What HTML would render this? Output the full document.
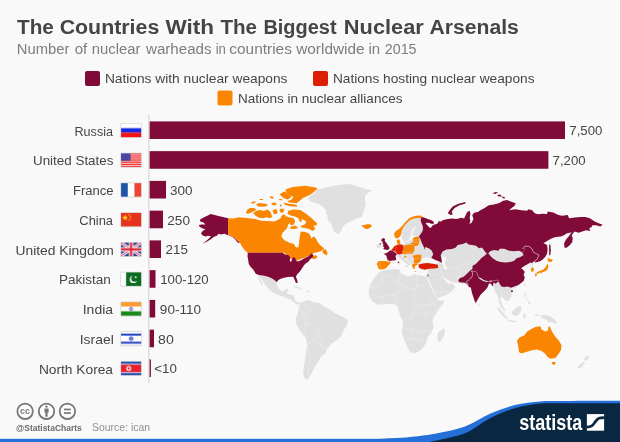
<!DOCTYPE html>
<html lang="en"><head><meta charset="utf-8"><title>The Countries With The Biggest Nuclear Arsenals</title>
<style>
html,body{margin:0;padding:0;background:#f9f9f9;}
body{width:620px;height:442px;overflow:hidden;font-family:"Liberation Sans",sans-serif;}
svg{display:block;will-change:transform}
text{font-family:"Liberation Sans",sans-serif;}
</style></head><body>
<svg width="620" height="442" viewBox="0 0 620 442">
<rect width="620" height="442" fill="#f9f9f9"/>
<g stroke-linejoin="round">
<path d="M377.3,274.3 380.2,271.4 385.3,270.0 391.1,269.3 396.9,269.0 399.8,270.0 400.6,272.9 404.2,275.1 408.5,276.5 411.5,275.8 412.9,274.3 416.5,274.8 421.6,275.8 426.7,276.5 428.1,280.9 430.3,286.0 432.5,290.3 434.7,294.7 436.9,298.3 439.0,300.9 441.2,300.5 444.5,300.0 443.4,303.4 440.5,307.0 437.6,311.4 434.7,315.7 436.0,313.6 433.1,318.0 432.3,322.3 433.8,326.7 432.3,331.0 429.4,334.7 427.3,338.3 426.5,341.9 424.4,345.6 421.5,349.2 417.8,352.1 413.5,353.3 409.8,352.1 408.1,348.5 406.2,344.1 404.0,339.0 402.3,334.0 401.9,329.6 403.3,325.2 402.6,320.9 400.4,316.5 399.0,312.2 400.6,315.0 398.7,311.4 397.7,307.0 395.5,304.4 391.9,304.1 386.8,304.1 381.7,304.8 377.3,304.4 373.7,302.6 370.8,299.7 369.1,296.1 368.6,291.8 369.4,287.4 371.5,282.3 374.4,278.0Z" fill="#e0e0e0"/>
<path d="M438.1,332.5 441.0,330.3 444.0,328.1 445.0,331.0 444.0,335.4 441.8,339.8 439.6,342.2 437.7,340.5 437.4,336.1Z" fill="#e0e0e0"/>
<path d="M300.0,304.5 303.8,301.2 308.8,300.0 313.8,302.0 318.8,303.0 323.8,306.2 328.8,308.8 333.8,312.5 341.2,316.2 348.0,320.0 347.0,325.0 343.8,330.0 341.2,336.2 336.2,340.5 331.2,343.8 327.5,348.8 325.0,353.8 321.2,356.2 318.8,361.2 315.0,366.2 312.5,371.2 310.0,376.2 308.0,379.5 305.0,378.8 303.0,373.8 303.8,367.5 305.0,360.0 306.2,352.5 307.0,345.0 306.2,338.8 302.5,333.8 298.8,328.8 296.2,323.8 295.8,318.8 297.5,313.8 298.8,308.8Z" fill="#e0e0e0"/>
<path d="M257.5,273.0 258.8,275.3 261.3,278.7 263.8,282.5 267.0,286.9 270.1,290.6 273.9,293.2 278.3,295.0 282.1,296.3 285.2,297.6 288.4,298.8 290.9,300.1 293.4,302.0 295.9,303.9 298.4,304.7 300.3,304.2 302.8,304.5 303.5,303.0 302.2,302.6 299.7,302.6 296.5,302.0 294.7,300.1 294.7,297.6 293.4,295.0 290.3,294.4 287.7,293.8 286.5,292.5 288.4,290.6 287.7,288.8 285.2,289.4 283.3,291.3 280.8,290.6 278.3,288.1 277.0,285.0 277.0,281.2 272.6,275.5Z" fill="#e0e0e0"/>
<path d="M257.5,276.2 259.1,276.8 261.3,281.2 263.2,285.0 262.3,285.4 259.8,281.2 257.8,277.8Z" fill="#e0e0e0"/>
<path d="M293.4,285.6 296.5,286.2 300.3,288.1 302.8,289.4 301.6,289.8 297.8,288.5 294.0,287.0Z" fill="#e0e0e0"/>
<path d="M306.0,290.6 309.1,291.0 308.9,292.2 306.0,291.9Z" fill="#e0e0e0"/>
<path d="M540.6,315.2 545.5,314.8 551.3,317.1 556.1,321.0 557.1,323.9 552.3,322.5 548.4,321.9 545.5,319.0 541.6,318.1Z" fill="#e0e0e0"/>
<path d="M585.2,356.8 589.0,355.8 587.7,359.7 585.4,361.4 584.2,359.3Z" fill="#e0e0e0"/>
<path d="M583.6,362.0 585.0,363.5 580.3,368.6 577.4,367.4 580.9,363.5Z" fill="#e0e0e0"/>
<path d="M491.4,279.5 493.3,277.0 497.0,275.8 507.1,277.0 517.2,279.5 519.7,284.6 515.3,287.7 512.1,289.0 510.9,288.4 512.1,292.1 511.5,296.5 509.6,299.7 507.1,301.6 504.6,300.3 503.3,297.8 501.4,296.5 500.2,298.4 500.8,301.6 502.1,304.7 504.0,307.9 505.8,310.4 504.6,311.3 502.1,308.5 500.2,305.3 498.9,301.6 498.3,297.8 497.0,294.6 495.1,291.5 493.9,287.7 493.0,284.6Z" fill="#e0e0e0"/>
<path d="M497.0,307.2 498.9,307.9 502.1,311.6 505.2,315.4 507.7,317.9 507.1,319.2 504.0,317.3 500.8,313.5 498.3,310.4Z" fill="#e0e0e0"/>
<path d="M507.7,319.8 512.1,320.4 516.5,321.7 515.9,322.6 510.9,321.7 507.7,320.8Z" fill="#e0e0e0"/>
<path d="M511.5,312.3 514.0,309.7 517.8,306.6 520.9,305.7 521.6,308.5 520.3,312.3 517.8,315.4 514.6,315.4 512.1,314.1Z" fill="#e0e0e0"/>
<path d="M523.5,314.1 525.3,313.5 526.6,315.4 525.0,316.3 525.7,318.5 524.1,318.8 523.2,316.0Z" fill="#e0e0e0"/>
<path d="M524.5,292.8 526.0,292.1 526.2,295.9 525.3,297.2 524.5,295.3Z" fill="#e0e0e0"/>
<path d="M527.9,301.6 529.7,300.9 530.4,304.1 528.5,304.7Z" fill="#e0e0e0"/>
<path d="M525.5,297.9 527.0,298.4 527.5,300.4 526.2,300.2Z" fill="#e0e0e0"/>
<path d="M524.1,284.0 525.3,283.6 525.3,286.1 524.3,286.5Z" fill="#e0e0e0"/>
<path d="M534.8,314.3 539.6,314.5 539.6,315.8 535.0,315.7Z" fill="#e0e0e0"/>
<path d="M478.3,303.9 479.7,303.9 479.7,305.3 478.3,305.3Z" fill="#e0e0e0"/>
<path d="M489.6,252.3 490.2,251.3 494.0,250.0 498.4,250.7 499.7,248.8 504.1,248.8 509.1,250.7 514.1,251.3 519.2,250.7 522.3,252.5 523.6,255.1 520.4,257.0 516.6,258.2 514.1,260.7 510.4,262.0 505.3,262.6 500.3,262.0 496.5,260.7 492.7,258.2 490.9,255.1Z" fill="#e0e0e0"/>
<path d="M428.2,268.8 427.6,273.9 427.0,277.0 428.2,278.3 430.1,282.7 432.0,287.1 433.9,291.5 435.8,295.3 437.6,298.4 441.4,297.1 445.8,295.3 450.2,292.7 453.4,289.6 455.3,286.5 453.4,284.6 450.9,283.3 449.0,283.9 446.5,282.0 444.6,279.5 442.9,277.6 445.2,278.3 448.3,280.2 451.5,282.0 455.3,282.9 458.4,283.3 460.3,283.3 470,285 485,284 500,275 505,262 503,250 490,240 470,238 455,240 447,244 443,250 441,257 437,259 432,262 430,264Z" fill="#e0e0e0"/>
<path d="M395.2,250.0 402.7,244.4 411.5,239.3 420.3,234.3 426.6,235.5 432.9,243.1 437.9,253.2 437.9,261.0 432.9,260.2 429.1,258.4 425.4,258.2 421.6,259.5 420.3,263.5 416.5,264.5 414.7,264.1 412.1,264.7 410.3,262.8 407.7,260.3 405.2,257.8 403.7,255.9 400.2,255.0 395.8,255.0Z" fill="#e0e0e0"/>
<path d="M442.0,257.1 445.1,256.5 446.4,259.6 444.5,262.7 445.8,265.9 447.6,267.8 446.4,269.7 443.9,268.4 443.2,265.3 442.0,262.7Z" fill="#f9f9f9"/>
<path d="M420.3,259.5 424.1,257.9 427.2,257.2 429.8,258.2 432.9,259.5 436.7,261.0 438.6,263.5 434.2,263.5 429.1,263.9 422.8,263.5 420.6,262.0Z" fill="#f9f9f9"/>
<path d="M307.5,198.3 312.6,193.9 317.6,189.5 325.2,187.6 332.7,186.1 341.5,184.8 350.3,184.1 355.4,185.7 361.6,187.6 367.9,189.8 372.7,190.3 368.6,192.6 365.4,195.1 364.8,200.2 366.0,205.2 364.2,209.6 362.9,213.4 362.3,216.5 359.1,217.8 355.4,219.0 351.6,220.9 347.8,222.8 344.0,225.3 341.5,229.1 341.7,230.2 338.5,234.3 334,231.5 330.3,221.4 329.6,223.4 328.3,220.3 327.0,217.8 328.3,215.9 325.8,214.0 326.4,211.5 324.5,208.3 320.8,205.2 316.4,203.3 311.3,202.0Z" fill="#e0e0e0"/>
<path d="M401.3,233.2 401.7,230.6 403.0,228.1 404.7,225.6 406.8,223.1 408.9,221.0 411.4,219.3 414.3,218.5 416.8,217.9 419.4,218.1 421.2,218.5 420.9,220.6 421.7,223.1 423.0,226.0 423.4,229.0 422.5,231.5 421.3,233.6 420.0,235.3 419.2,236.5 417.7,236.3 415.2,236.3 413.1,235.8 412.6,234.0 413.1,231.9 414.3,229.8 415.6,227.7 415.2,226.0 413.9,227.7 412.2,229.4 411.4,231.5 411.8,233.2 411.0,235.7 409.7,238.2 408.0,240.3 405.9,241.5 403.8,242.0 402.6,240.3 401.7,237.8 401.3,234.8Z" fill="#e0e0e0"/>
<path d="M376.9,244.8 379.3,244.5 380.7,245.9 379.9,247.7 377.6,248.1 376.6,246.6Z" fill="#e0e0e0"/>
<path d="M396.8,254.8 400.8,254.4 403.0,255.7 404.0,257.9 405.9,259.8 408.4,261.7 410.5,264.2 409.3,265.7 407.2,264.5 405.2,262.6 402.7,260.7 400.2,258.8 398.3,257.2Z" fill="#e0e0e0"/>
<path d="M404.6,265.7 407.7,265.5 407.7,267.1 405.0,267.1Z" fill="#e0e0e0"/>
<path d="M398.6,261.5 400.1,261.5 400.1,264.5 398.7,264.5Z" fill="#e0e0e0"/>
<path d="M210.8,214.1 218.6,216.1 228.1,218.2 228.1,234.9 232.5,236.5 236.3,239.6 240.0,242.7 238.1,243.0 235.0,239.2 231.9,236.7 228.1,235.2 224.3,233.7 221.2,234.6 218.6,233.7 216.8,235.8 213.6,237.1 210.5,239.6 206.7,241.7 202.3,243.7 206.1,240.9 209.2,238.3 211.1,236.5 208.0,235.8 205.4,236.5 202.3,235.2 201.0,233.3 202.9,230.8 205.4,229.5 202.3,228.3 199.8,227.0 198.8,225.1 201.7,224.5 205.4,224.5 203.5,222.6 200.4,221.4 199.8,219.8 203.5,217.6 207.3,215.7Z" fill="#800b38"/>
<path d="M228.1,218.2 233.7,218.6 238.8,217.3 243.8,217.8 248.8,218.3 255.1,219.1 261.4,220.7 266.5,221.1 267.7,221.0 274.0,221.4 277.7,220.1 280.3,218.3 284.0,216.7 287.6,216.4 289.5,217.6 293.9,218.3 295.1,221.4 293.9,224.6 290.7,225.2 289.8,222.9 288.2,224.6 287.0,228.3 282.5,232.7 281.3,236.5 284.4,240.3 289.5,242.8 293.9,244.1 295.8,247.2 298.3,247.6 298.9,244.1 299.5,239.0 300.2,234.0 300.8,231.5 305.2,232.1 309.0,233.4 310.9,236.5 310.6,238.4 314.0,236.5 315.9,238.4 317.8,242.2 320.3,245.3 323.4,247.8 324.4,248.5 321.4,251.0 317.4,252.2 313.8,253.0 311.3,255.3 310.6,256.8 313.0,256.3 315.8,255.0 317.6,257.0 315.3,259.0 312.6,258.8 310.4,257.5 309.2,256.0 305.4,257.3 302.3,258.5 298.7,259.8 296.0,261.0 293.5,259.3 290.4,258.5 289.2,255.5 285.4,254.3 284.6,252.7 262.0,252.7 247.8,252.8 247.0,252.2 244.4,249.7 241.9,246.5 240.0,242.7 236.3,239.6 232.5,236.5 228.1,234.9Z" fill="#f98500"/>
<path d="M323.0,250.2 325.5,249.0 327.5,252.7 326.9,255.4 324.3,254.1 322.4,252.7Z" fill="#f98500"/>
<path d="M285.3,189.6 292.8,187.1 305.4,185.8 315.5,187.4 317.7,188.7 310.5,194.4 302.9,198.1 299.1,201.3 296.6,203.2 289.1,202.5 287.2,201.3 291.6,199.4 293.5,196.9 290.3,195.6 286.5,193.1Z" fill="#f98500"/>
<path d="M279.6,194.4 284.0,191.2 289.7,195.0 291.6,196.9 287.8,199.4 283.4,198.1Z" fill="#f98500"/>
<path d="M283.4,202.5 289.1,203.8 296.6,204.7 297.2,206.7 290.3,206.3 285.3,205.0Z" fill="#f98500"/>
<path d="M250.8,202.6 254.2,201.2 256.1,201.7 253.7,203.4 251.8,203.6Z" fill="#f98500"/>
<path d="M256.1,204.6 259.0,203.1 263.4,203.6 266.8,204.1 267.8,205.6 264.9,206.5 261.0,206.7 257.6,206.3Z" fill="#f98500"/>
<path d="M259.5,199.0 262.9,199.0 263.1,199.9 259.7,200.0Z" fill="#f98500"/>
<path d="M269.3,196.8 272.2,196.3 274.1,198.3 271.7,198.8Z" fill="#f98500"/>
<path d="M271.2,203.1 275.1,202.6 277.0,204.6 274.1,205.6 271.7,204.6Z" fill="#f98500"/>
<path d="M245.9,212.9 247.4,209.4 250.3,208.0 253.7,208.0 256.6,209.4 254.7,210.9 252.2,211.9 249.8,213.3 247.4,213.8Z" fill="#f98500"/>
<path d="M253.2,213.3 256.1,210.9 259.5,209.9 263.9,210.9 267.3,209.4 269.7,210.9 271.2,213.8 272.2,216.7 270.2,218.2 266.3,217.2 262.9,218.2 259.0,217.7 255.6,215.8Z" fill="#f98500"/>
<path d="M272.7,209.9 276.1,209.0 277.5,210.9 277.0,213.8 274.6,214.3 273.0,212.4Z" fill="#f98500"/>
<path d="M279.5,209.0 283.4,208.5 284.3,210.4 282.4,212.9 280.0,211.9Z" fill="#f98500"/>
<path d="M279.0,199.0 281.9,199.0 282.1,200.3 279.2,200.3Z" fill="#f98500"/>
<path d="M279.8,204.6 281.5,204.6 281.5,206.5 280.0,206.5Z" fill="#f98500"/>
<path d="M280.9,216.3 283.8,214.3 285.8,215.8 284.3,218.4 281.9,218.4Z" fill="#f98500"/>
<path d="M288.2,210.7 293.9,209.5 300.2,210.1 306.5,213.9 311.5,218.3 317.1,223.3 316.5,225.8 313.4,225.2 315.3,229.0 312.7,230.9 309.0,229.0 305.2,228.0 301.4,227.5 300.8,225.8 304.6,224.6 306.5,222.0 304.6,220.2 301.4,218.9 302.0,221.4 300.2,222.0 298.3,218.3 295.1,216.4 291.4,215.8 287.6,213.9Z" fill="#f98500"/>
<path d="M290.7,226.5 295.8,225.8 298.3,228.0 293.9,229.0 290.3,228.7Z" fill="#f98500"/>
<path d="M247.8,252.8 282.8,252.8 284.7,254.4 288.4,255.1 290.3,257.0 289.7,260.7 291.0,262.0 292.2,258.8 293.5,257.0 295.4,258.2 296.0,260.7 297.9,261.4 301.6,260.1 304.2,258.2 306.0,257.6 308.6,256.3 310.5,254.4 311.7,253.2 313.6,255.7 312.3,257.6 309.8,259.5 308.6,261.4 306.0,263.2 304.2,265.1 302.9,267.0 301.6,268.9 299.7,271.8 297.2,274.3 295.9,276.8 297.2,280.0 297.7,283.1 295.9,283.1 294.7,280.0 293.4,277.1 291.5,276.8 287.7,277.1 284.0,277.8 280.8,278.7 278.3,280.0 277.0,282.1 275.8,281.2 273.3,279.3 270.1,277.4 266.4,276.2 262.6,275.5 258.8,274.9 255.7,273.7 253.2,269.5 250.7,267.0 248.8,263.9 248.2,260.1 247.5,256.3Z" fill="#800b38"/>
<path d="M361.3,224.9 363.8,225.2 366.3,224.2 370.1,224.2 372.0,225.8 370.1,227.7 367.0,229.2 364.4,228.3 362.5,226.5Z" fill="#f98500"/>
<path d="M394.2,233.2 395.9,231.1 398.4,229.4 400.9,227.3 403.4,224.4 405.9,221.4 408.9,218.5 411.8,217.1 415.2,216.0 418.5,215.4 421.5,215.7 422.3,217.1 421.0,218.5 419.4,218.1 416.8,217.9 414.3,218.5 411.4,219.3 408.9,221.0 406.8,223.1 404.7,225.6 403.0,228.1 401.7,230.6 401.3,233.2 400.5,235.7 398.8,237.4 396.7,238.6 395.0,237.4 394.2,234.8Z" fill="#f98500"/>
<path d="M381.3,239.5 383.2,238.0 385.1,239.1 384.7,241.0 386.2,242.5 387.3,244.3 388.8,246.6 389.6,248.1 388.8,249.5 386.9,249.9 384.7,249.5 383.2,248.8 384.3,247.3 382.8,246.2 383.6,244.7 382.5,243.2 382.8,241.7 381.3,241.0Z" fill="#800b38"/>
<path d="M379.3,243.4 381.0,243.2 381.1,244.4 379.6,244.5Z" fill="#800b38"/>
<path d="M383.6,253.7 386.2,253.3 388.1,252.0 390.3,250.3 392.5,250.7 394.6,252.2 396.3,253.3 396.7,254.8 395.5,255.9 395.9,257.8 396.3,259.8 394.4,260.5 392.2,260.4 389.9,260.9 387.7,260.2 386.9,257.8 386.2,255.5 384.7,254.4Z" fill="#800b38"/>
<path d="M397.7,261.7 399.0,261.7 399.0,262.9 397.7,262.9Z" fill="#800b38"/>
<path d="M391.1,249.9 392.5,248.8 394.0,246.6 395.2,245.8 396.3,246.6 396.3,248.4 395.5,249.9 395.2,251.8 393.3,251.0Z" fill="#dc1e05"/>
<path d="M395.2,245.8 397.4,244.7 400.0,244.3 403.0,245.1 403.8,247.7 403.4,249.9 402.3,251.4 403.0,253.3 401.1,254.0 398.9,254.4 396.7,253.7 396.3,252.2 395.0,251.6 395.5,249.5 396.3,247.3Z" fill="#dc1e05"/>
<path d="M396.7,240.3 398.8,239.2 399.9,241.1 400.5,243.2 399.4,245.0 397.5,244.1 396.9,242.0Z" fill="#f98500"/>
<path d="M403.8,245.6 407.1,244.7 410.8,244.3 413.8,245.1 414.6,247.7 414.2,250.7 413.1,252.3 412.7,253.8 410.1,253.8 407.1,253.7 406.4,254.2 403.8,254.3 402.5,253.2 402.8,251.6 403.5,249.9 404.0,247.7Z" fill="#f98500"/>
<path d="M403.8,256.6 406.0,256.0 406.4,257.2 404.5,258.0Z" fill="#f98500"/>
<path d="M412.6,238.2 415.2,236.9 419.1,236.5 419.5,239.9 419.1,243.2 417.7,245.7 413.9,245.9 412.2,242.4 413.5,240.3Z" fill="#f98500"/>
<path d="M412.3,256.0 415.3,254.9 419.1,254.4 421.3,255.1 421.3,255.0 421.1,260.6 419.1,262.5 416.8,263.2 414.2,263.2 413.8,261.0 414.2,258.7 413.1,256.9 412.3,255.0Z" fill="#f98500"/>
<path d="M412.0,264.7 413.8,263.6 416.8,263.2 417.9,264.3 416.1,265.5 414.6,266.2 415.0,268.1 413.8,269.2 412.7,267.7 412.0,266.2Z" fill="#f98500"/>
<path d="M414.8,271.0 416.2,271.0 416.2,271.7 414.8,271.7Z" fill="#f98500"/>
<path d="M377.6,261.7 380.2,261.0 384.7,261.1 388.4,261.6 391.1,262.1 389.6,264.3 387.7,266.2 386.2,268.1 384.0,269.2 381.0,269.6 378.4,268.8 377.6,266.2 376.9,264.0Z" fill="#f98500"/>
<path d="M528.8,265.7 532.0,263.0 535.3,262.2 534.1,265.1 532.6,267.0 531.1,268.0 529.6,267.3Z" fill="#ececec"/>
<path d="M421.0,218.5 422.3,217.1 425.2,218.1 428.6,219.3 431.9,220.6 433.6,221.8 434.0,223.5 431.9,223.9 429.4,223.1 426.9,222.7 425.6,223.1 426.9,224.8 429.0,226.9 430.3,228.1 431.5,226.9 432.8,225.2 434.5,224.4 436.5,223.9 438.2,222.7 438.6,221.0 440.3,221.4 440.2,222.1 442.7,220.3 446.5,219.3 451.5,218.4 456.5,219.0 461.5,217.7 464.1,218.4 465.3,215.9 467.2,212.1 469.7,210.8 470.4,214.0 469.7,217.7 470.4,221.5 469.1,224.0 471.6,222.8 473.5,219.0 472.2,215.2 474.1,212.7 477.9,212.1 480.4,210.2 484.2,208.3 488.0,205.8 488.8,205.2 493.8,204.5 498.8,203.3 503.2,200.8 507.0,200.1 512.0,202.0 515.8,203.3 514.6,205.8 511.4,208.3 508.9,210.2 515.2,209.2 521.5,210.2 527.1,210.8 528.4,209.2 532.2,210.2 534.7,213.3 537.8,214.2 542.9,213.7 547.0,213.9 547.7,211.4 553.3,212.6 558.4,215.1 562.1,215.8 567.8,215.1 569.0,218.3 574.7,217.6 580.4,217.0 585.4,217.0 589.8,218.3 594.8,221.4 599.9,223.7 602.6,224.6 600.5,226.5 596.1,225.2 592.3,225.2 591.7,227.1 589.2,228.3 590.4,230.9 586.0,230.2 582.3,231.5 578.5,232.7 574.7,231.5 573.5,232.7 571.6,235.3 572.8,238.4 572.2,242.2 569.7,245.3 566.5,247.8 564.6,247.8 564.0,243.4 565.9,239.7 569.0,235.9 571.6,232.1 569.7,232.7 566.5,233.4 564.0,235.3 560.9,236.5 555.8,237.1 551.4,238.4 548.3,240.3 545.1,242.2 543.3,243.1 547.0,245.0 547.7,249.4 547.0,253.8 545.2,256.9 542.6,259.5 540.1,261.3 537.6,262.0 535.1,262.6 534.5,261.3 536.4,260.1 537.6,258.2 538.9,255.0 536.4,253.8 533.2,251.9 532.0,248.8 528.8,246.2 525.0,246.2 522.5,248.8 525.5,248.8 522.3,252.5 519.2,250.7 514.1,251.3 509.1,250.7 504.1,248.8 499.7,248.8 498.4,250.7 494.0,250.0 490.2,251.3 489.2,252.3 487.7,254.1 485.8,252.8 482.0,247.5 479.1,248.3 476.0,245.8 472.2,245.1 468.4,244.5 466.5,242.6 462.7,243.9 457.7,245.1 455.8,247.6 452.0,248.9 446.4,249.5 442.6,251.4 440.7,255.2 441.4,259.0 442.0,262.7 439.5,261.5 434.4,259.6 431.3,257.7 433.2,254.6 431.9,250.8 428.8,248.3 425.0,247.0 424.8,250.0 423.6,246.6 421.7,242.8 420.4,239.0 418.9,236.5 419.8,235.3 421.0,233.6 422.3,231.5 423.1,229.0 422.7,226.0 421.5,223.1 420.6,220.6Z" fill="#800b38"/>
<path d="M447.7,213.3 449.6,210.2 452.7,206.4 457.8,203.9 465.3,202.1 465.6,203.4 459.0,205.4 454.6,207.9 451.7,211.5 452.7,214.6 450.9,215.0Z" fill="#800b38"/>
<path d="M492.5,193.2 495.7,192.0 498.2,192.6 495.1,194.1Z" fill="#800b38"/>
<path d="M497.0,195.1 500.1,194.5 502.0,196.4 498.8,196.6Z" fill="#800b38"/>
<path d="M502.0,196.4 504.5,197.0 505.1,198.6 502.6,198.2Z" fill="#800b38"/>
<path d="M549.1,244.4 550.3,244.4 550.9,250.6 550.3,255.2 549.2,255.2 549.1,250.0Z" fill="#800b38"/>
<path d="M411.2,243.2 412.3,243.1 412.5,243.9 411.3,244.1Z" fill="#800b38"/>
<path d="M487.1,253.2 484.6,255.7 482.0,257.6 478.9,260.7 475.8,263.9 472.6,265.8 472.4,267.6 473.9,270.2 476.6,273.9 478.9,276.5 482.0,279.0 485.8,280.9 489.0,281.7 492.7,281.5 495.9,280.9 498.4,281.5 499.7,284.0 501.5,286.5 504.1,287.1 507.8,286.5 511.0,287.8 514.1,286.5 517.9,285.3 520.4,283.4 523.6,280.9 524.8,277.7 523.6,274.6 524.8,272.0 522.9,269.5 521.0,268.3 523.6,266.4 526.1,265.1 528.0,263.9 530.5,262.6 532.0,263.2 534.5,261.3 536.4,260.1 537.6,258.2 538.9,255.0 536.4,253.8 533.2,251.9 532.0,248.8 528.8,246.2 525.0,246.2 522.5,248.8 525.5,248.8 522.3,252.5 523.6,255.1 520.4,257.0 516.6,258.2 514.1,260.7 510.4,262.0 505.3,262.6 500.3,262.0 496.5,260.7 492.7,258.2 490.2,255.7 488.3,253.2Z" fill="#800b38"/>
<path d="M511.1,290.2 512.8,290.2 512.8,291.9 511.1,291.9Z" fill="#800b38"/>
<path d="M473.3,267.4 475.2,270.0 477.0,273.1 478.9,275.6 482.1,278.1 485.9,280.0 489.0,280.6 491.5,280.4 494.0,279.6 497.2,279.4 498.4,280.6 497.2,282.5 495.3,283.8 494.0,282.5 492.8,284.4 493.4,286.3 492.1,285.7 490.9,283.8 489.0,283.2 488.4,285.0 487.7,286.9 485.9,289.5 483.3,292.0 480.8,294.5 478.9,297.6 477.0,300.8 475.8,303.3 474.5,300.8 473.3,297.0 472.0,293.2 471.4,290.1 470.8,287.6 468.9,286.9 467.6,285.0 467.0,283.8 466.4,282.5 467.0,280.6 468.9,279.4 470.8,276.9 472.6,274.4 472.0,271.8 473.3,269.3Z" fill="#800b38"/>
<path d="M458.2,280.0 460.1,278.1 463.2,276.9 465.7,275.0 468.2,272.5 470.1,270.6 472.0,269.3 473.3,267.4 473.3,269.3 472.0,271.8 472.6,274.4 470.8,276.9 468.9,279.4 467.0,280.6 466.4,282.5 467.0,283.8 464.5,282.5 461.3,282.5 458.8,281.9Z" fill="#800b38"/>
<path d="M427.5,274.2 428.3,274.2 428.3,276.5 427.6,276.5Z" fill="#800b38"/>
<path d="M418.5,264.4 422.5,263.6 427.6,263.1 432.6,263.8 437.9,264.8 438.1,268.1 433.9,268.6 428.8,268.8 425.1,269.8 421.3,269.0 418.8,267.6Z" fill="#dc1e05"/>
<path d="M531.3,267.9 532.6,267.3 533.5,268.2 533.9,270.2 532.9,271.5 531.6,271.9 531.0,270.5Z" fill="#f98500"/>
<path d="M548.1,257.9 550.0,258.9 552.9,259.8 551.9,261.5 550.0,262.1 548.1,261.5 547.6,259.8Z" fill="#f98500"/>
<path d="M536.5,272.7 538.1,271.5 540.0,270.8 541.9,270.2 543.9,268.9 545.5,267.6 546.5,265.6 547.1,264.0 548.1,264.4 548.3,266.6 547.7,268.9 546.5,270.5 544.5,271.5 542.6,272.1 541.3,273.4 540.3,272.4 539.0,273.1 537.7,274.0 536.6,273.7Z" fill="#f98500"/>
<path d="M535.0,273.6 536.5,273.7 536.9,275.0 536.1,276.6 535.2,276.3Z" fill="#f98500"/>
<path d="M517.0,340.7 519.4,337.4 524.2,335.5 527.1,331.6 531.9,328.7 535.8,326.8 540.6,326.4 541.6,329.7 545.5,331.6 548.0,330.6 548.4,326.4 549.9,326.8 551.9,331.6 555.2,336.5 559.0,340.7 561.5,345.2 561.0,350.0 558.1,354.8 555.2,358.1 550.3,358.7 547.4,356.8 544.9,353.5 541.6,351.0 536.8,349.6 531.0,350.4 526.1,351.9 521.3,353.5 519.0,351.9 518.4,347.1Z" fill="#f98500"/>
<path d="M551.9,362.0 555.7,362.0 554.6,365.1 552.6,364.5Z" fill="#f98500"/>
<path d="M478.5,277.2 480.8,278.1 483.4,279.7 486.0,280.7 487.9,281.0 487.6,282.0 485.3,281.7 482.7,280.7 480.5,279.4 478.5,278.1Z" fill="#e0e0e0"/>
<path d="M489.2,280.7 491.8,280.6 491.9,281.7 489.5,281.9Z" fill="#e0e0e0"/>
<path d="M471.1,271.0 472.4,272.6 472.7,274.6 472.1,276.8 470.5,278.8 468.9,280.4 466.6,281.4 467.6,283.3 468.2,285.2 467.9,286.8" fill="none" stroke="#fff" stroke-opacity="0.7" stroke-width="0.6"/>
<path d="M471.1,271.0 473.7,271.7 475.6,271.4 476.9,272.6 477.6,274.6 478.5,277.2" fill="none" stroke="#fff" stroke-opacity="0.7" stroke-width="0.6"/>
<path d="M487.9,281.4 489.2,281.4" fill="none" stroke="#fff" stroke-opacity="0.5" stroke-width="0.6"/>
<path d="M491.9,281.1 493.7,280.7 496.3,280.1 498.9,280.4" fill="none" stroke="#fff" stroke-opacity="0.6" stroke-width="0.6"/>
<path d="M522.5,248.8 525.0,246.2 528.8,246.2 532.0,248.8 533.2,251.9 536.4,253.8 538.9,255.0 537.6,258.2 536.4,260.1 534.5,261.3 532.0,263.2" fill="none" stroke="#fff" stroke-opacity="0.7" stroke-width="0.6"/>
<path d="M400.6,272.9 399.1,278.0 399.8,283.8 405.6,287.4" fill="none" stroke="#fff" stroke-opacity="0.5" stroke-width="0.5"/>
<path d="M416.5,274.8 416.8,286.0 429.6,286.0" fill="none" stroke="#fff" stroke-opacity="0.5" stroke-width="0.5"/>
<path d="M369.4,287.4 381.7,286.0 381.7,278.0 386.8,275.8 399.8,283.8" fill="none" stroke="#fff" stroke-opacity="0.5" stroke-width="0.5"/>
<path d="M381.7,296.8 394.0,294.7 405.6,287.4 415.1,288.9 416.8,286.0" fill="none" stroke="#fff" stroke-opacity="0.5" stroke-width="0.5"/>
<path d="M415.1,288.9 413.6,299.7 420.2,305.5" fill="none" stroke="#fff" stroke-opacity="0.5" stroke-width="0.5"/>
<path d="M394.0,294.7 396.2,304.1" fill="none" stroke="#fff" stroke-opacity="0.5" stroke-width="0.5"/>
<path d="M381.7,296.8 382.4,304.4" fill="none" stroke="#fff" stroke-opacity="0.5" stroke-width="0.5"/>
<path d="M373.7,295.4 381.7,296.8" fill="none" stroke="#fff" stroke-opacity="0.5" stroke-width="0.5"/>
<path d="M428.9,291.0 428.9,295.4 433.2,304.1 440.5,307.0" fill="none" stroke="#fff" stroke-opacity="0.5" stroke-width="0.5"/>
<path d="M402.0,319.3 412.9,317.9 413.6,309.9 420.2,305.5 426.0,312.1 425.2,320.1" fill="none" stroke="#fff" stroke-opacity="0.5" stroke-width="0.5"/>
<path d="M426.0,312.1 434.0,316.4" fill="none" stroke="#fff" stroke-opacity="0.5" stroke-width="0.5"/>
<path d="M420.2,305.5 428.9,304.8 433.2,304.1" fill="none" stroke="#fff" stroke-opacity="0.5" stroke-width="0.5"/>
<path d="M402.6,329.6 412.7,328.9 418.5,331.8 432.3,331.0" fill="none" stroke="#fff" stroke-opacity="0.5" stroke-width="0.5"/>
<path d="M412.7,328.9 413.0,339.0 418.5,341.2 424.4,339.0" fill="none" stroke="#fff" stroke-opacity="0.5" stroke-width="0.5"/>
<path d="M406.2,339.0 413.0,339.0" fill="none" stroke="#fff" stroke-opacity="0.5" stroke-width="0.5"/>
<path d="M418.5,331.8 418.5,341.2" fill="none" stroke="#fff" stroke-opacity="0.5" stroke-width="0.5"/>
<path d="M438.9,310.0 433.1,312.2 424.4,314.4 418.5,312.9" fill="none" stroke="#fff" stroke-opacity="0.5" stroke-width="0.5"/>
<path d="M313.8,302.0 311.2,310.0 303.8,315.0 306.2,322.5 313.8,326.2 318.8,332.5 322.5,338.8 321.2,345.0 325.0,350.0 327.5,348.8" fill="none" stroke="#fff" stroke-opacity="0.5" stroke-width="0.5"/>
<path d="M307.0,345.0 310.0,357.5 308.8,370.0 308.0,377.5" fill="none" stroke="#fff" stroke-opacity="0.5" stroke-width="0.5"/>
<path d="M306.2,322.5 303.8,333.8" fill="none" stroke="#fff" stroke-opacity="0.5" stroke-width="0.5"/>
<path d="M307.0,345.0 313.8,340.0 318.8,332.5" fill="none" stroke="#fff" stroke-opacity="0.5" stroke-width="0.5"/>
<path d="M303.8,301.2 306.2,308.8 311.2,310.0" fill="none" stroke="#fff" stroke-opacity="0.5" stroke-width="0.5"/>
<path d="M298.8,308.8 303.8,315.0" fill="none" stroke="#fff" stroke-opacity="0.5" stroke-width="0.5"/>
<path d="M313.8,340.0 321.2,345.0" fill="none" stroke="#fff" stroke-opacity="0.5" stroke-width="0.5"/>
<path d="M379.6,262.1 380.1,266.2 379.5,268.8" fill="none" stroke="#fff" stroke-opacity="0.5" stroke-width="0.4"/>
<path d="M395.2,245.8 396.3,247.3 395.5,249.5 395.0,251.6" fill="none" stroke="#fff" stroke-opacity="0.35" stroke-width="0.4"/>
<path d="M402.8,251.6 404.5,252.5 407.1,253.3 410.1,252.2 413.1,252.3" fill="none" stroke="#fff" stroke-opacity="0.6" stroke-width="0.4"/>
<path d="M413.1,240.3 419.4,239.5" fill="none" stroke="#fff" stroke-opacity="0.6" stroke-width="0.4"/>
<path d="M412.5,242.6 419.1,242.2" fill="none" stroke="#fff" stroke-opacity="0.6" stroke-width="0.4"/>
<path d="M413.8,259.1 420.6,258.7" fill="none" stroke="#fff" stroke-opacity="0.6" stroke-width="0.4"/>
<path d="M442.9,277.6 437.6,275.1 432.6,273.9 428.2,273.9" fill="none" stroke="#fff" stroke-opacity="0.5" stroke-width="0.5"/>
<path d="M442.9,277.6 442.0,272.6 440.2,268.8" fill="none" stroke="#fff" stroke-opacity="0.5" stroke-width="0.5"/>
<path d="M444.6,279.5 450.9,283.3" fill="none" stroke="#fff" stroke-opacity="0.5" stroke-width="0.5"/>
<path d="M433.9,291.5 441.4,291.5 450.2,292.7" fill="none" stroke="#fff" stroke-opacity="0.5" stroke-width="0.5"/>
<path d="M441.4,297.1 441.4,291.5" fill="none" stroke="#fff" stroke-opacity="0.5" stroke-width="0.5"/>
<path d="M458.4,283.3 457.8,277.6 460.3,272.6 456.5,268.8 451.5,267.6 448.3,268.2" fill="none" stroke="#fff" stroke-opacity="0.5" stroke-width="0.5"/>
<path d="M460.3,272.6 465.3,271.4 470.4,270.1" fill="none" stroke="#fff" stroke-opacity="0.5" stroke-width="0.5"/>
<path d="M456.5,268.8 459.0,265.1 465.3,263.8 470.4,262.5" fill="none" stroke="#fff" stroke-opacity="0.5" stroke-width="0.5"/>
</g>
<text x="17.09" y="33.5" font-size="19.5" font-weight="bold" fill="#454545" textLength="36.79" lengthAdjust="spacingAndGlyphs">The</text><text x="59.65" y="33.5" font-size="19.5" font-weight="bold" fill="#454545" textLength="99.65" lengthAdjust="spacingAndGlyphs">Countries</text><text x="165.4" y="33.5" font-size="19.5" font-weight="bold" fill="#454545" textLength="48.59" lengthAdjust="spacingAndGlyphs">With</text><text x="220.49" y="33.5" font-size="19.5" font-weight="bold" fill="#454545" textLength="36.59" lengthAdjust="spacingAndGlyphs">The</text><text x="263.4" y="33.5" font-size="19.5" font-weight="bold" fill="#454545" textLength="73.14" lengthAdjust="spacingAndGlyphs">Biggest</text><text x="343.88" y="33.5" font-size="19.5" font-weight="bold" fill="#454545" textLength="79.91" lengthAdjust="spacingAndGlyphs">Nuclear</text><text x="429.57" y="33.5" font-size="19.5" font-weight="bold" fill="#454545" textLength="89.27" lengthAdjust="spacingAndGlyphs">Arsenals</text>
<text x="16.82" y="54" font-size="14" fill="#7d7d7d" textLength="52.63" lengthAdjust="spacingAndGlyphs">Number</text><text x="74.7" y="54" font-size="14" fill="#7d7d7d" textLength="12.59" lengthAdjust="spacingAndGlyphs">of</text><text x="91.84" y="54" font-size="14" fill="#7d7d7d" textLength="48.66" lengthAdjust="spacingAndGlyphs">nuclear</text><text x="146.0" y="54" font-size="14" fill="#7d7d7d" textLength="65.55" lengthAdjust="spacingAndGlyphs">warheads</text><text x="215.64" y="54" font-size="14" fill="#7d7d7d" textLength="10.26" lengthAdjust="spacingAndGlyphs">in</text><text x="229.28" y="54" font-size="14" fill="#7d7d7d" textLength="62.62" lengthAdjust="spacingAndGlyphs">countries</text><text x="296.2" y="54" font-size="14" fill="#7d7d7d" textLength="68.42" lengthAdjust="spacingAndGlyphs">worldwide</text><text x="368.42" y="54" font-size="14" fill="#7d7d7d" textLength="11.71" lengthAdjust="spacingAndGlyphs">in</text><text x="384.79" y="54" font-size="14" fill="#7d7d7d" textLength="31.78" lengthAdjust="spacingAndGlyphs">2015</text>
<rect x="85" y="71" width="15" height="15" rx="2" fill="#800b38"/><text x="104.9" y="83" font-size="13" fill="#454545" textLength="182.59" lengthAdjust="spacingAndGlyphs">Nations with nuclear weapons</text>
<rect x="313" y="71" width="15" height="15" rx="2" fill="#dc1e05"/><text x="332.91" y="83" font-size="13" fill="#454545" textLength="201.6" lengthAdjust="spacingAndGlyphs">Nations hosting nuclear weapons</text>
<rect x="217.5" y="90.5" width="15" height="15" rx="2" fill="#f98500"/><text x="237.92" y="102.5" font-size="13" fill="#454545" textLength="164.54" lengthAdjust="spacingAndGlyphs">Nations in nuclear alliances</text>
<rect x="148" y="115" width="1.5" height="268" fill="#dedede"/>
<rect x="149.6" y="121.40" width="415.4" height="17.6" fill="#800b38"/><text x="74.49" y="135.6" font-size="13.3" fill="#454545" textLength="38.53" lengthAdjust="spacingAndGlyphs">Russia</text><text x="569.34" y="135.4" font-size="13" fill="#454545" textLength="33.16" lengthAdjust="spacingAndGlyphs">7,500</text><g transform="translate(121.1,123.7)"><rect x="-0.7" y="-0.7" width="21.4" height="15.0" rx="1.2" fill="#d4d4d4"/><svg x="0" y="0" width="20" height="13.4" viewBox="0 0 21 14" preserveAspectRatio="none"><rect width="21" height="14" fill="#fff"/><rect y="4.67" width="21" height="4.67" fill="#1428e6"/><rect y="9.33" width="21" height="4.67" fill="#f51414"/></svg></g>
<rect x="149.6" y="151.15" width="398.79999999999995" height="17.6" fill="#800b38"/><text x="32.99" y="165.35" font-size="13.3" fill="#454545" textLength="80.45" lengthAdjust="spacingAndGlyphs">United States</text><text x="552.54" y="165.15" font-size="13" fill="#454545" textLength="33.16" lengthAdjust="spacingAndGlyphs">7,200</text><g transform="translate(121.1,153.45000000000002)"><rect x="-0.7" y="-0.7" width="21.4" height="15.0" rx="1.2" fill="#d4d4d4"/><svg x="0" y="0" width="20" height="13.4" viewBox="0 0 21 14" preserveAspectRatio="none"><rect width="21" height="14" fill="#f23434"/><rect y="1.23" width="21" height="0.78" fill="#fff" fill-opacity=".92"/><rect y="3.38" width="21" height="0.78" fill="#fff" fill-opacity=".92"/><rect y="5.53" width="21" height="0.78" fill="#fff" fill-opacity=".92"/><rect y="7.69" width="21" height="0.78" fill="#fff" fill-opacity=".92"/><rect y="9.84" width="21" height="0.78" fill="#fff" fill-opacity=".92"/><rect y="12.00" width="21" height="0.78" fill="#fff" fill-opacity=".92"/><rect width="9.8" height="7.6" fill="#3c3c9c"/><g fill="#8a8cc8"><circle cx="2" cy="2" r=".55"/><circle cx="4.9" cy="2" r=".55"/><circle cx="7.8" cy="2" r=".55"/><circle cx="3.4" cy="3.8" r=".55"/><circle cx="6.3" cy="3.8" r=".55"/><circle cx="2" cy="5.6" r=".55"/><circle cx="4.9" cy="5.6" r=".55"/><circle cx="7.8" cy="5.6" r=".55"/></g></svg></g>
<rect x="149.6" y="180.90" width="16.4" height="17.6" fill="#800b38"/><text x="72.95" y="195.1" font-size="13.3" fill="#454545" textLength="40.66" lengthAdjust="spacingAndGlyphs">France</text><text x="169.96" y="194.9" font-size="13" fill="#454545" textLength="22.56" lengthAdjust="spacingAndGlyphs">300</text><g transform="translate(121.1,183.20000000000002)"><rect x="-0.7" y="-0.7" width="21.4" height="15.0" rx="1.2" fill="#d4d4d4"/><svg x="0" y="0" width="20" height="13.4" viewBox="0 0 21 14" preserveAspectRatio="none"><rect width="21" height="14" fill="#fff"/><rect width="7" height="14" fill="#1e55a8"/><rect x="14" width="7" height="14" fill="#ee4436"/></svg></g>
<rect x="149.6" y="210.65" width="13.4" height="17.6" fill="#800b38"/><text x="79.36" y="224.85" font-size="13.3" fill="#454545" textLength="33.68" lengthAdjust="spacingAndGlyphs">China</text><text x="167.32" y="224.65" font-size="13" fill="#454545" textLength="22.7" lengthAdjust="spacingAndGlyphs">250</text><g transform="translate(121.1,212.95000000000002)"><rect x="-0.7" y="-0.7" width="21.4" height="15.0" rx="1.2" fill="#d4d4d4"/><svg x="0" y="0" width="20" height="13.4" viewBox="0 0 21 14" preserveAspectRatio="none"><rect width="21" height="14" fill="#e6311c"/><g fill="#ffde1a"><path d="M4.2 1.6l.8 2.3h2.4l-1.9 1.4.7 2.3-2-1.4-2 1.4.7-2.3-1.9-1.4h2.4z"/><circle cx="8.3" cy="1.8" r=".7"/><circle cx="9.8" cy="3.5" r=".7"/><circle cx="9.8" cy="5.8" r=".7"/><circle cx="8.3" cy="7.6" r=".7"/></g></svg></g>
<rect x="149.6" y="240.40" width="11.4" height="17.6" fill="#800b38"/><text x="15.46" y="254.6" font-size="13.3" fill="#454545" textLength="98.44" lengthAdjust="spacingAndGlyphs">United Kingdom</text><text x="165.58" y="254.4" font-size="13" fill="#454545" textLength="22.25" lengthAdjust="spacingAndGlyphs">215</text><g transform="translate(121.1,242.70000000000002)"><rect x="-0.7" y="-0.7" width="21.4" height="15.0" rx="1.2" fill="#d4d4d4"/><svg x="0" y="0" width="20" height="13.4" viewBox="0 0 21 14" preserveAspectRatio="none"><rect width="21" height="14" fill="#233d9a"/><path d="M0 0L21 14M21 0L0 14" stroke="#fff" stroke-width="3"/><path d="M0 0L21 14M21 0L0 14" stroke="#e0263a" stroke-width="1"/><path d="M10.5 0V14M0 7H21" stroke="#fff" stroke-width="4.6"/><path d="M10.5 0V14M0 7H21" stroke="#e0263a" stroke-width="2.4"/></svg></g>
<rect x="149.6" y="270.15" width="5.9" height="17.6" fill="#800b38"/><text x="58.92" y="284.35" font-size="13.3" fill="#454545" textLength="51.97" lengthAdjust="spacingAndGlyphs">Pakistan</text><text x="160.26" y="284.15" font-size="13" fill="#454545" textLength="48.45" lengthAdjust="spacingAndGlyphs">100-120</text><g transform="translate(121.1,272.45)"><rect x="-0.7" y="-0.7" width="21.4" height="15.0" rx="1.2" fill="#d4d4d4"/><svg x="0" y="0" width="20" height="13.4" viewBox="0 0 21 14" preserveAspectRatio="none"><rect width="21" height="14" fill="#fff"/><rect x="5.2" width="15.8" height="14" fill="#0a6a1e"/><circle cx="13" cy="7.2" r="3.9" fill="#fff"/><circle cx="14.1" cy="6.3" r="3.5" fill="#0a6a1e"/><circle cx="15.4" cy="5" r="1" fill="#fff"/></svg></g>
<rect x="149.6" y="299.90" width="5.6000000000000005" height="17.6" fill="#800b38"/><text x="82.74" y="314.1" font-size="13.3" fill="#454545" textLength="30.31" lengthAdjust="spacingAndGlyphs">India</text><text x="159.89" y="313.9" font-size="13" fill="#454545" textLength="41.08" lengthAdjust="spacingAndGlyphs">90-110</text><g transform="translate(121.1,302.2)"><rect x="-0.7" y="-0.7" width="21.4" height="15.0" rx="1.2" fill="#d4d4d4"/><svg x="0" y="0" width="20" height="13.4" viewBox="0 0 21 14" preserveAspectRatio="none"><rect width="21" height="14" fill="#fff"/><rect width="21" height="4.5" fill="#ff9a30"/><rect y="9.5" width="21" height="4.5" fill="#1a8a1a"/><circle cx="10.5" cy="7" r="1.7" fill="none" stroke="#3a3ab0" stroke-width=".8"/><circle cx="10.5" cy="7" r=".6" fill="#3a3ab0"/></svg></g>
<rect x="149.6" y="329.65" width="4.4" height="17.6" fill="#800b38"/><text x="79.74" y="343.85" font-size="13.3" fill="#454545" textLength="34.17" lengthAdjust="spacingAndGlyphs">Israel</text><text x="158.12" y="343.65" font-size="13" fill="#454545" textLength="15.66" lengthAdjust="spacingAndGlyphs">80</text><g transform="translate(121.1,331.95)"><rect x="-0.7" y="-0.7" width="21.4" height="15.0" rx="1.2" fill="#d4d4d4"/><svg x="0" y="0" width="20" height="13.4" viewBox="0 0 21 14" preserveAspectRatio="none"><rect width="21" height="14" fill="#fff"/><rect y="1.7" width="21" height="2.1" fill="#1f3fc0"/><rect y="10.2" width="21" height="2.1" fill="#1f3fc0"/><path d="M10.5 4.7l2 3.4h-4zM10.5 9.3l-2-3.4h4z" fill="none" stroke="#1f3fc0" stroke-width=".8"/></svg></g>
<rect x="149.6" y="359.40" width="1.3" height="17.6" fill="#800b38"/><text x="38.9" y="373.6" font-size="13.3" fill="#454545" textLength="74.12" lengthAdjust="spacingAndGlyphs">North Korea</text><text x="154.33" y="373.4" font-size="13" fill="#454545" textLength="22.65" lengthAdjust="spacingAndGlyphs">&lt;10</text><g transform="translate(121.1,361.7)"><rect x="-0.7" y="-0.7" width="21.4" height="15.0" rx="1.2" fill="#d4d4d4"/><svg x="0" y="0" width="20" height="13.4" viewBox="0 0 21 14" preserveAspectRatio="none"><rect width="21" height="14" fill="#2a50b0"/><rect y="2.3" width="21" height="9.4" fill="#fff"/><rect y="3.1" width="21" height="7.8" fill="#e8202c"/><circle cx="8" cy="7" r="2.6" fill="#fff"/><circle cx="8" cy="7" r="1.3" fill="#e8202c"/></svg></g>
<rect x="0" y="438.8" width="620" height="3.4" fill="#256fd8"/>
<path d="M380,438.9 C383.3,438.7 395.0,438.1 400,437.8 C405.0,437.5 404.2,437.7 410,437 C415.8,436.3 425.8,435.4 435,433.7 C444.2,431.9 455.8,429.8 465,426.5 C474.2,423.2 481.7,417.3 490,413.75 C498.3,410.2 506.7,407.1 515,405 C523.3,402.9 532.5,402.1 540,401.4 C547.5,400.7 546.7,401.1 560,401 C573.3,400.9 610.0,400.8 620,400.8 L620,442 L380,442Z" fill="#256fd8"/>
<path d="M426,442.5 C427.5,442.2 428.5,442.3 435,440.75 C441.5,439.2 455.8,437.0 465,433.25 C474.2,429.5 481.7,422.4 490,418.25 C498.3,414.1 506.7,410.7 515,408.25 C523.3,405.8 532.5,404.4 540,403.6 C547.5,402.8 546.7,403.4 560,403.3 C573.3,403.2 610.0,403.3 620,403.3 L620,442.5 Z" fill="#0a2741"/>
<text x="519.17" y="429.9" font-size="21.5" font-weight="bold" fill="#fff" textLength="63.08" lengthAdjust="spacingAndGlyphs">statista</text>
<rect x="586.9" y="414.1" width="17.2" height="16.6" fill="#fff"/>
<path d="M586.5,427.1 C592.5,427.1 593.3,424.4 595.6,421.4 C598,418.2 599,417.7 604.5,417.7" fill="none" stroke="#0a2741" stroke-width="2.7"/>
<circle cx="25.1" cy="411.3" r="7.7" fill="#fff" stroke="#777" stroke-width="1.8"/>
<circle cx="46.5" cy="411.3" r="7.7" fill="#fff" stroke="#777" stroke-width="1.8"/>
<circle cx="67.4" cy="411.3" r="7.7" fill="#fff" stroke="#777" stroke-width="1.8"/>
<text x="25.1" y="414.3" font-size="9" font-weight="bold" fill="#777" text-anchor="middle" textLength="10" lengthAdjust="spacingAndGlyphs">cc</text>
<circle cx="46.5" cy="406.6" r="1.2" fill="#777"/><path d="M44.4,408.5h4.2v4h-1v4.3h-2.2v-4.3h-1z" fill="#777"/>
<rect x="63.9" y="408.6" width="7" height="1.7" fill="#777"/><rect x="63.9" y="412.2" width="7" height="1.7" fill="#777"/>
<text x="16.03" y="430.9" font-size="8.7" font-weight="bold" fill="#6a6a6a" textLength="65.71" lengthAdjust="spacingAndGlyphs">@StatistaCharts</text>
<text x="92.03" y="430.5" font-size="10" fill="#909090" textLength="58.14" lengthAdjust="spacingAndGlyphs">Source: ican</text>
</svg>
</body></html>
